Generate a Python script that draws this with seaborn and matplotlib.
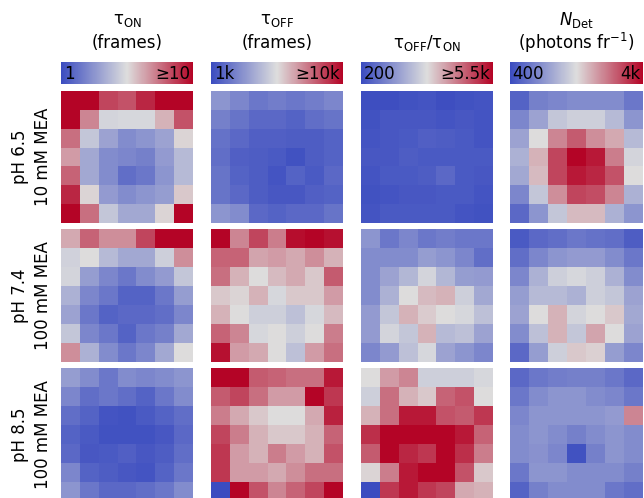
import numpy as np
import matplotlib
matplotlib.use('Agg')
import matplotlib.pyplot as plt
from matplotlib.colors import LinearSegmentedColormap
import seaborn as sns

# position of each pixel on the colour scale (0 = low end, 1 = saturated high end)
ton_ph65 = [[1.00, 1.00, 0.85, 0.82, 0.92, 1.00, 1.00],
            [1.00, 0.70, 0.47, 0.48, 0.48, 0.60, 0.82],
            [0.75, 0.42, 0.30, 0.22, 0.25, 0.30, 0.52],
            [0.65, 0.32, 0.22, 0.20, 0.18, 0.27, 0.38],
            [0.78, 0.32, 0.22, 0.12, 0.15, 0.25, 0.38],
            [0.92, 0.52, 0.27, 0.22, 0.25, 0.28, 0.55],
            [1.00, 0.75, 0.42, 0.32, 0.32, 0.52, 1.00]]
toff_ph65 = [[0.25, 0.20, 0.15, 0.17, 0.15, 0.17, 0.20],
             [0.18, 0.14, 0.10, 0.10, 0.08, 0.12, 0.14],
             [0.13, 0.10, 0.07, 0.07, 0.06, 0.06, 0.08],
             [0.12, 0.07, 0.06, 0.05, 0.02, 0.06, 0.08],
             [0.14, 0.08, 0.06, 0.03, 0.08, 0.05, 0.10],
             [0.14, 0.10, 0.06, 0.04, 0.04, 0.07, 0.08],
             [0.25, 0.22, 0.10, 0.08, 0.10, 0.10, 0.14]]
ratio_ph65 = [[0.01, 0.01, 0.02, 0.03, 0.01, 0.02, 0.03],
              [0.02, 0.04, 0.04, 0.04, 0.03, 0.04, 0.03],
              [0.03, 0.04, 0.05, 0.07, 0.06, 0.05, 0.03],
              [0.04, 0.04, 0.06, 0.05, 0.05, 0.05, 0.05],
              [0.03, 0.05, 0.05, 0.06, 0.10, 0.05, 0.04],
              [0.02, 0.03, 0.04, 0.04, 0.05, 0.05, 0.03],
              [0.03, 0.05, 0.05, 0.05, 0.05, 0.03, 0.02]]
ndet_ph65 = [[0.08, 0.18, 0.20, 0.22, 0.22, 0.22, 0.15],
             [0.20, 0.30, 0.42, 0.45, 0.45, 0.38, 0.25],
             [0.30, 0.50, 0.70, 0.80, 0.68, 0.62, 0.38],
             [0.35, 0.60, 0.85, 1.00, 0.95, 0.72, 0.47],
             [0.32, 0.58, 0.85, 0.95, 0.92, 0.82, 0.50],
             [0.20, 0.42, 0.68, 0.85, 0.83, 0.70, 0.35],
             [0.10, 0.25, 0.42, 0.58, 0.58, 0.35, 0.25]]

ton_ph74 = [[0.62, 0.78, 0.68, 0.68, 0.85, 1.00, 1.00],
            [0.46, 0.50, 0.38, 0.32, 0.32, 0.45, 0.68],
            [0.47, 0.28, 0.20, 0.15, 0.22, 0.27, 0.42],
            [0.35, 0.20, 0.15, 0.08, 0.08, 0.15, 0.28],
            [0.30, 0.15, 0.08, 0.10, 0.10, 0.12, 0.20],
            [0.42, 0.20, 0.15, 0.08, 0.15, 0.18, 0.32],
            [0.68, 0.35, 0.22, 0.15, 0.20, 0.32, 0.50]]
toff_ph74 = [[1.00, 0.70, 0.85, 0.72, 0.98, 1.00, 0.97],
             [0.78, 0.78, 0.63, 0.65, 0.62, 0.68, 0.60],
             [0.75, 0.60, 0.50, 0.58, 0.62, 0.55, 0.80],
             [0.55, 0.52, 0.60, 0.48, 0.55, 0.55, 0.65],
             [0.60, 0.50, 0.45, 0.45, 0.40, 0.48, 0.58],
             [0.78, 0.70, 0.48, 0.50, 0.45, 0.50, 0.72],
             [0.97, 0.65, 0.62, 0.50, 0.40, 0.65, 0.75]]
ratio_ph74 = [[0.25, 0.15, 0.20, 0.15, 0.17, 0.15, 0.15],
              [0.22, 0.22, 0.22, 0.28, 0.25, 0.20, 0.12],
              [0.22, 0.30, 0.37, 0.47, 0.37, 0.28, 0.27],
              [0.22, 0.35, 0.50, 0.58, 0.60, 0.45, 0.32],
              [0.27, 0.42, 0.60, 0.54, 0.50, 0.48, 0.40],
              [0.27, 0.47, 0.42, 0.60, 0.38, 0.40, 0.30],
              [0.20, 0.27, 0.40, 0.48, 0.30, 0.25, 0.20]]
ndet_ph74 = [[0.05, 0.10, 0.12, 0.15, 0.13, 0.12, 0.06],
             [0.12, 0.20, 0.25, 0.27, 0.27, 0.22, 0.15],
             [0.20, 0.35, 0.45, 0.48, 0.45, 0.35, 0.22],
             [0.28, 0.38, 0.38, 0.35, 0.45, 0.42, 0.30],
             [0.30, 0.50, 0.60, 0.47, 0.50, 0.55, 0.32],
             [0.22, 0.40, 0.60, 0.42, 0.63, 0.50, 0.30],
             [0.10, 0.28, 0.45, 0.55, 0.53, 0.28, 0.20]]

ton_ph85 = [[0.28, 0.22, 0.15, 0.22, 0.20, 0.22, 0.25],
            [0.20, 0.12, 0.15, 0.12, 0.08, 0.15, 0.22],
            [0.12, 0.08, 0.03, 0.02, 0.05, 0.08, 0.12],
            [0.08, 0.05, 0.02, 0.02, 0.02, 0.04, 0.10],
            [0.10, 0.04, 0.05, 0.07, 0.04, 0.06, 0.12],
            [0.20, 0.08, 0.06, 0.04, 0.03, 0.08, 0.15],
            [0.25, 0.15, 0.10, 0.10, 0.12, 0.15, 0.22]]
toff_ph85 = [[1.00, 1.00, 0.80, 0.78, 0.75, 0.75, 0.95],
             [0.80, 0.85, 0.75, 0.65, 0.65, 1.00, 0.88],
             [0.72, 0.62, 0.55, 0.50, 0.50, 0.62, 0.93],
             [0.85, 0.72, 0.60, 0.55, 0.55, 0.60, 0.78],
             [0.88, 0.65, 0.60, 0.72, 0.65, 0.60, 0.82],
             [0.88, 0.65, 0.65, 0.62, 0.68, 0.75, 0.75],
             [0.00, 1.00, 0.82, 0.70, 0.78, 0.85, 1.00]]
ratio_ph85 = [[0.50, 0.65, 0.70, 0.45, 0.45, 0.45, 0.48],
              [0.45, 0.75, 0.60, 0.55, 0.78, 0.82, 0.50],
              [0.60, 0.75, 0.95, 0.95, 0.82, 0.80, 0.88],
              [0.90, 1.00, 1.00, 1.00, 1.00, 0.95, 0.78],
              [0.80, 1.00, 0.92, 0.88, 1.00, 0.90, 0.72],
              [0.52, 0.72, 0.95, 1.00, 1.00, 0.82, 0.55],
              [0.00, 0.88, 0.95, 0.88, 0.85, 0.62, 0.60]]
ndet_ph85 = [[0.10, 0.15, 0.17, 0.18, 0.18, 0.15, 0.10],
             [0.15, 0.22, 0.25, 0.25, 0.22, 0.20, 0.15],
             [0.20, 0.25, 0.25, 0.25, 0.25, 0.27, 0.70],
             [0.22, 0.25, 0.22, 0.18, 0.22, 0.25, 0.22],
             [0.22, 0.24, 0.20, 0.02, 0.18, 0.25, 0.22],
             [0.15, 0.25, 0.25, 0.22, 0.22, 0.22, 0.18],
             [0.08, 0.18, 0.22, 0.22, 0.22, 0.15, 0.12]]

title_top = ['τ$_{\\rm ON}$', 'τ$_{\\rm OFF}$', '', '$N_{\\rm Det}$']
title_bottom = ['(frames)', '(frames)', 'τ$_{\\rm OFF}$/τ$_{\\rm ON}$', '(photons fr$^{-1}$)']
cbar_low = ['1', '1k', '200', '400']
cbar_high = ['≥10', '≥10k', '≥5.5k', '4k']
row_labels = [('pH 6.5', '10 mM MEA'), ('pH 7.4', '100 mM MEA'), ('pH 8.5', '100 mM MEA')]

grids = [[ton_ph65, toff_ph65, ratio_ph65, ndet_ph65],
         [ton_ph74, toff_ph74, ratio_ph74, ndet_ph74],
         [ton_ph85, toff_ph85, ratio_ph85, ndet_ph85]]

# blue - grey - red, interpolated linearly (pinker than coolwarm)
cmap = LinearSegmentedColormap.from_list('bwr_grey', ['#3b4cc0', '#dddddd', '#b40426'])

W, H = 644, 498
fig = plt.figure(figsize=(W / 100, H / 100), dpi=100)


def px_axes(x0, y0, x1, y1):
    return fig.add_axes([x0 / W, 1 - y1 / H, (x1 - x0) / W, (y1 - y0) / H])


col_x = [(61, 193), (211, 343), (361, 493), (510, 643)]
row_y = [(91, 223), (229, 362), (368, 501)]

for r, (y0, y1) in enumerate(row_y):
    for c, (x0, x1) in enumerate(col_x):
        ax = px_axes(x0, y0, x1, y1)
        sns.heatmap(np.array(grids[r][c]), ax=ax, cmap=cmap, vmin=0, vmax=1,
                    cbar=False, xticklabels=False, yticklabels=False)
        ax.tick_params(length=0)
    yc = (y0 + y1) / 2
    fig.text(20 / W, 1 - yc / H, row_labels[r][0], rotation=90, ha='center', va='center', fontsize=12)
    fig.text(43 / W, 1 - yc / H, row_labels[r][1], rotation=90, ha='center', va='center', fontsize=12)

sm = plt.cm.ScalarMappable(cmap=cmap, norm=plt.Normalize(0, 1))
for c, (x0, x1) in enumerate(col_x):
    cax = px_axes(x0, 62, x1, 84)
    cb = fig.colorbar(sm, cax=cax, orientation='horizontal')
    cb.outline.set_visible(False)
    cax.set_xticks([])
    cax.text(0.02, 0.45, cbar_low[c], transform=cax.transAxes, ha='left', va='center', fontsize=12)
    cax.text(0.98, 0.45, cbar_high[c], transform=cax.transAxes, ha='right', va='center', fontsize=12)
    xc = (x0 + x1) / 2 / W
    fig.text(xc, 1 - 20 / H, title_top[c], ha='center', va='center', fontsize=12)
    fig.text(xc, 1 - 43 / H, title_bottom[c], ha='center', va='center', fontsize=12)

fig.savefig('out.png', dpi=100)
